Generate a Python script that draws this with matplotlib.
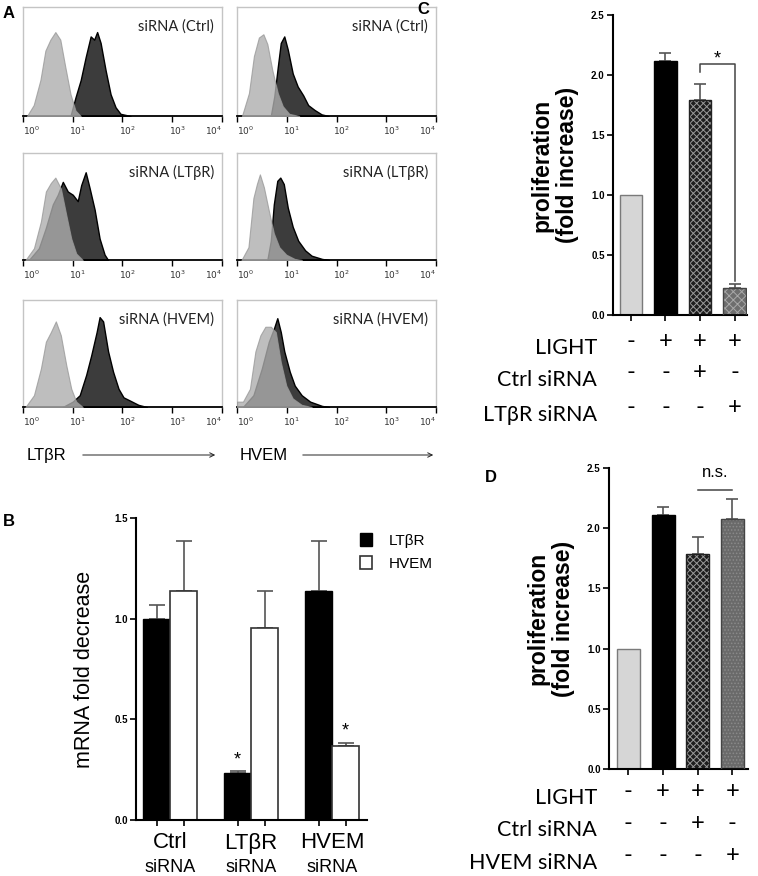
import matplotlib
matplotlib.use('Agg')
import matplotlib.pyplot as plt
import matplotlib.transforms as mtransforms
from matplotlib.patches import FancyArrowPatch
from matplotlib.ticker import LogLocator, NullFormatter
import numpy as np

plt.rcParams['font.family'] = ['Liberation Sans', 'DejaVu Sans']
plt.rcParams['hatch.linewidth'] = 0.7

W, H = 758, 876

# ---------------- Panel A: flow histograms (log10 fluorescence, normalized count) ----------------
hist_rows = ['siRNA (Ctrl)', 'siRNA (LTβR)', 'siRNA (HVEM)']
hist_ticks = [1, 10, 100, 1000, 10000]
hist_ticklabels = ['$10^{0}$', '$10^{1}$', '$10^{2}$', '$10^{3}$', '$10^{4}$']

# LTβR staining, Ctrl siRNA
ltbr_ctrl_iso_log = [0.08, 0.215, 0.35, 0.45, 0.55, 0.65, 0.75, 0.85, 0.955, 1.055, 1.16]
ltbr_ctrl_iso_h = [0, 0.10, 0.33, 0.60, 0.70, 0.77, 0.70, 0.45, 0.20, 0.05, 0]
ltbr_ctrl_ab_log = [0.955, 1.055, 1.16, 1.26, 1.36, 1.43, 1.49, 1.56, 1.66, 1.76, 1.86, 1.96, 2.16]
ltbr_ctrl_ab_h = [0, 0.17, 0.33, 0.54, 0.73, 0.70, 0.77, 0.67, 0.42, 0.20, 0.08, 0.02, 0]
# HVEM staining, Ctrl siRNA
hvem_ctrl_iso_log = [0.10, 0.24, 0.34, 0.44, 0.53, 0.61, 0.71, 0.82, 0.92, 1.05, 1.25]
hvem_ctrl_iso_h = [0, 0.21, 0.55, 0.72, 0.75, 0.66, 0.42, 0.21, 0.09, 0.02, 0]
hvem_ctrl_ab_log = [0.68, 0.75, 0.82, 0.88, 0.95, 1.02, 1.12, 1.22, 1.33, 1.43, 1.56, 1.70, 1.84]
hvem_ctrl_ab_h = [0, 0.18, 0.45, 0.67, 0.73, 0.61, 0.39, 0.27, 0.19, 0.10, 0.055, 0.015, 0]
# LTβR staining, LTβR siRNA
ltbr_ltbr_iso_log = [0.05, 0.22, 0.36, 0.46, 0.56, 0.65, 0.76, 0.87, 0.97, 1.07, 1.20]
ltbr_ltbr_iso_h = [0, 0.11, 0.36, 0.64, 0.72, 0.77, 0.67, 0.42, 0.20, 0.06, 0]
ltbr_ltbr_ab_log = [0.12, 0.32, 0.46, 0.60, 0.70, 0.80, 0.90, 1.00, 1.10, 1.17, 1.26, 1.34, 1.44, 1.54, 1.64, 1.71]
ltbr_ltbr_ab_h = [0, 0.11, 0.30, 0.52, 0.61, 0.73, 0.64, 0.61, 0.55, 0.70, 0.82, 0.67, 0.47, 0.20, 0.05, 0]
# HVEM staining, LTβR siRNA
hvem_ltbr_iso_log = [0.09, 0.23, 0.33, 0.40, 0.46, 0.54, 0.64, 0.74, 0.85, 0.99, 1.16, 1.30]
hvem_ltbr_iso_h = [0, 0.12, 0.58, 0.71, 0.80, 0.68, 0.46, 0.25, 0.12, 0.05, 0.01, 0]
hvem_ltbr_ab_log = [0.61, 0.68, 0.74, 0.81, 0.87, 0.94, 1.02, 1.12, 1.23, 1.37, 1.50, 1.71, 1.85]
hvem_ltbr_ab_h = [0, 0.18, 0.52, 0.74, 0.77, 0.71, 0.49, 0.31, 0.18, 0.09, 0.04, 0.01, 0]
# LTβR staining, HVEM siRNA
ltbr_hvem_iso_log = [0.05, 0.22, 0.36, 0.46, 0.56, 0.66, 0.76, 0.87, 0.97, 1.07, 1.20]
ltbr_hvem_iso_h = [0, 0.11, 0.36, 0.61, 0.70, 0.80, 0.67, 0.39, 0.17, 0.05, 0]
ltbr_hvem_ab_log = [0.80, 1.00, 1.14, 1.27, 1.37, 1.48, 1.54, 1.61, 1.71, 1.81, 1.92, 2.02, 2.15, 2.32, 2.49]
ltbr_hvem_ab_h = [0, 0.05, 0.11, 0.30, 0.48, 0.70, 0.84, 0.80, 0.52, 0.33, 0.17, 0.09, 0.06, 0.02, 0]
# HVEM staining, HVEM siRNA
hvem_hvem_iso_log = [0.0, 0.12, 0.26, 0.37, 0.47, 0.57, 0.68, 0.78, 0.88, 0.99, 1.12, 1.30, 1.50]
hvem_hvem_iso_h = [0.05, 0.05, 0.17, 0.52, 0.67, 0.75, 0.75, 0.70, 0.42, 0.20, 0.08, 0.02, 0]
hvem_hvem_ab_log = [0.12, 0.33, 0.50, 0.64, 0.74, 0.81, 0.88, 0.95, 1.06, 1.16, 1.30, 1.47, 1.71, 1.85]
hvem_hvem_ab_h = [0, 0.11, 0.36, 0.61, 0.73, 0.83, 0.70, 0.52, 0.33, 0.20, 0.11, 0.05, 0.01, 0]

hist_data = [
    [(ltbr_ctrl_iso_log, ltbr_ctrl_iso_h, ltbr_ctrl_ab_log, ltbr_ctrl_ab_h),
     (hvem_ctrl_iso_log, hvem_ctrl_iso_h, hvem_ctrl_ab_log, hvem_ctrl_ab_h)],
    [(ltbr_ltbr_iso_log, ltbr_ltbr_iso_h, ltbr_ltbr_ab_log, ltbr_ltbr_ab_h),
     (hvem_ltbr_iso_log, hvem_ltbr_iso_h, hvem_ltbr_ab_log, hvem_ltbr_ab_h)],
    [(ltbr_hvem_iso_log, ltbr_hvem_iso_h, ltbr_hvem_ab_log, ltbr_hvem_ab_h),
     (hvem_hvem_iso_log, hvem_hvem_iso_h, hvem_hvem_ab_log, hvem_hvem_ab_h)],
]

# ---------------- Panel B: mRNA ----------------
b_groups = ['Ctrl', 'LTβR', 'HVEM']
b_ltbr = [1.00, 0.235, 1.135]
b_ltbr_err = [0.069, 0.006, 0.249]
b_hvem = [1.135, 0.956, 0.368]
b_hvem_err = [0.249, 0.183, 0.013]
b_yticks = [0.0, 0.5, 1.0, 1.5]

# ---------------- Panel C / D: proliferation ----------------
c_vals = [1.0, 2.114, 1.795, 0.222]
c_err = [0.0, 0.070, 0.133, 0.033]
d_vals = [1.0, 2.112, 1.789, 2.076]
d_err = [0.0, 0.068, 0.138, 0.164]
prolif_yticks = [0.0, 0.5, 1.0, 1.5, 2.0, 2.5]
c_rows = ['LIGHT', 'Ctrl siRNA', 'LTβR siRNA']
c_signs = [['-', '+', '+', '+'], ['-', '-', '+', '-'], ['-', '-', '-', '+']]
d_rows = ['LIGHT', 'Ctrl siRNA', 'HVEM siRNA']
d_signs = [['-', '+', '+', '+'], ['-', '-', '+', '-'], ['-', '-', '-', '+']]

ARIAL = ['Liberation Sans', 'DejaVu Sans']
CALIBRI = ['Lato', 'DejaVu Sans']

fig = plt.figure(figsize=(W / 100, H / 100), dpi=100)


def add_ax(l, t, r, b):
    return fig.add_axes([l / W, 1 - b / H, (r - l) / W, (b - t) / H])


def fx(x):
    return x / W


def fy(y):
    return 1 - y / H


# ---------- Panel A ----------
col_lr = [(23, 222), (237, 436)]
row_tb = [(7, 116), (153, 260), (300, 407)]
for ri, (t, b) in enumerate(row_tb):
    for ci, (l, r) in enumerate(col_lr):
        ax = add_ax(l, t, r, b)
        iso_log, iso_h, ab_log, ab_h = hist_data[ri][ci]
        ab_x = 10 ** np.array(ab_log)
        iso_x = 10 ** np.array(iso_log)
        ax.fill_between(ab_x, ab_h, 0, facecolor='#3c3c3c', edgecolor='black', linewidth=1.0, zorder=2)
        ax.fill_between(iso_x, iso_h, 0, facecolor='#aeaeae', edgecolor='#9a9a9a', linewidth=0.8,
                        alpha=0.8, zorder=3)
        ax.set_xscale('log')
        ax.set_xlim(1, 1e4)
        ax.set_ylim(0, 1)
        ax.set_yticks([])
        ax.set_xticks(hist_ticks)
        ax.set_xticklabels(hist_ticklabels, fontsize=6.5, color='#333333')
        ax.xaxis.set_minor_locator(LogLocator(base=10, subs=np.arange(2, 10)))
        ax.xaxis.set_minor_formatter(NullFormatter())
        ax.tick_params(axis='x', which='major', direction='out', length=4, width=1.0, pad=2)
        ax.tick_params(axis='x', which='minor', direction='out', length=2, width=0.7)
        for s in ['left', 'top', 'right']:
            ax.spines[s].set_color('#c4c4c4')
            ax.spines[s].set_linewidth(1.0)
        ax.spines['bottom'].set_linewidth(1.3)
        labs = ax.get_xticklabels()
        labs[0].set_ha('left')
        labs[-1].set_ha('right')
        off = mtransforms.ScaledTranslation(5 / 100, 0, fig.dpi_scale_trans)
        for lab in labs[1:-1]:
            lab.set_transform(lab.get_transform() + off)
        ax.text(0.96, 0.82, hist_rows[ri], transform=ax.transAxes, ha='right', va='center',
                fontsize=10.5, family=CALIBRI, color='#222222')

fig.text(fx(9), fy(13), 'A', fontsize=12, fontweight='bold', ha='center', va='center')

# axis labels with arrows
fig.text(fx(27), fy(455), 'LTβR', fontsize=12, ha='left', va='center', family=ARIAL)
fig.text(fx(240), fy(455), 'HVEM', fontsize=12, ha='left', va='center', family=ARIAL)
for x0, x1 in [(80, 218), (300, 436)]:
    fig.add_artist(FancyArrowPatch((fx(x0), fy(455)), (fx(x1), fy(455)), transform=fig.transFigure,
                                   arrowstyle='->', mutation_scale=8, linewidth=0.7, color='#222222'))

# ---------- Panel B ----------
axb = add_ax(136, 518, 367, 820)
xg = np.arange(len(b_groups))
bw = 1 / 3
axb.bar(xg - bw / 2, b_ltbr, width=bw, color='black', edgecolor='black', linewidth=1.0, label='LTβR', zorder=2)
axb.bar(xg + bw / 2, b_hvem, width=bw, color='white', edgecolor='#333333', linewidth=1.2, label='HVEM', zorder=2)
axb.errorbar(xg - bw / 2, b_ltbr, yerr=[np.zeros(3), b_ltbr_err], fmt='none', ecolor='#555555',
             elinewidth=1.2, capsize=5.5, capthick=1.2, zorder=1)
axb.errorbar(xg + bw / 2, b_hvem, yerr=[np.zeros(3), b_hvem_err], fmt='none', ecolor='#555555',
             elinewidth=1.2, capsize=5.5, capthick=1.2, zorder=1)
axb.set_xlim(-0.42, 2.43)
axb.set_ylim(0, 1.5)
axb.set_yticks(b_yticks)
axb.set_yticklabels([f'{v:.1f}' for v in b_yticks], fontsize=7, fontweight='bold')
axb.set_xticks(np.concatenate([xg - bw / 2, xg + bw / 2]))
axb.set_xticklabels([])
axb.tick_params(axis='both', direction='out', length=4, width=1.2, pad=2)
for s in ['top', 'right']:
    axb.spines[s].set_visible(False)
for s in ['left', 'bottom']:
    axb.spines[s].set_linewidth(1.5)
axb.set_ylabel('mRNA fold decrease', fontsize=15.5, labelpad=14)
axb.text(1 - bw / 2, 0.30, '*', fontsize=13, ha='center', va='center')
axb.text(2 + bw / 2, 0.44, '*', fontsize=13, ha='center', va='center')
bt = mtransforms.blended_transform_factory(axb.transData, fig.transFigure)
for i, g in enumerate(b_groups):
    fig.text(xg[i], fy(843), g, transform=bt, fontsize=16, ha='center', va='center')
    fig.text(xg[i], fy(867), 'siRNA', transform=bt, fontsize=13, ha='center', va='center')
axb.legend(loc='upper left', bbox_to_anchor=(fx(354), fy(527)), bbox_transform=fig.transFigure,
           frameon=False, fontsize=11, handlelength=0.8, handleheight=0.9, handletextpad=1.1,
           labelspacing=0.55, borderaxespad=0)
fig.text(fx(9), fy(521), 'B', fontsize=12, fontweight='bold', ha='center', va='center')


# ---------- Panels C and D ----------
def prolif_panel(box, vals, errs, bar4_face, bar4_hatch, bar4_hcolor, xlim, rows, signs, row_y, sign_dy):
    ax = add_ax(*box)
    x = np.arange(4)
    w = 0.66
    # bar 1 light gray, bar 2 black
    ax.bar(x[0], vals[0], width=w, color='#d6d6d6', edgecolor='#7a7a7a', linewidth=1.0, zorder=2)
    ax.bar(x[1], vals[1], width=w, color='black', edgecolor='black', linewidth=1.0, zorder=2)
    # bar 3 checkered dark
    ax.bar(x[2], vals[2], width=w, color='#1e1e1e', edgecolor='#9a9a9a', hatch='xxxxx', linewidth=0, zorder=2)
    ax.bar(x[2], vals[2], width=w, fill=False, edgecolor='#222222', linewidth=1.0, zorder=3)
    # bar 4
    ax.bar(x[3], vals[3], width=w, color=bar4_face, edgecolor=bar4_hcolor, hatch=bar4_hatch, linewidth=0, zorder=2)
    ax.bar(x[3], vals[3], width=w, fill=False, edgecolor='#444444', linewidth=1.0, zorder=3)
    ax.errorbar(x[1:], vals[1:], yerr=[np.zeros(3), errs[1:]], fmt='none', ecolor='#555555',
                elinewidth=1.2, capsize=4.5, capthick=1.2, zorder=1)
    ax.set_xlim(*xlim)
    ax.set_ylim(0, 2.5)
    ax.set_yticks(prolif_yticks)
    ax.set_yticklabels([f'{v:.1f}' for v in prolif_yticks], fontsize=7, fontweight='bold')
    ax.set_xticks(x)
    ax.set_xticklabels([])
    ax.tick_params(axis='both', direction='out', length=4, width=1.2, pad=2)
    for s in ['top', 'right']:
        ax.spines[s].set_visible(False)
    for s in ['left', 'bottom']:
        ax.spines[s].set_linewidth(1.5)
    ax.set_ylabel('proliferation\n(fold increase)', fontsize=16.5, fontweight='bold', labelpad=9,
                  linespacing=1.12)
    tr = mtransforms.blended_transform_factory(ax.transData, fig.transFigure)
    for ri, name in enumerate(rows):
        fig.text(fx(597), fy(row_y[ri]), name, fontsize=15.5, family=CALIBRI, ha='right', va='center')
        for ci, s in enumerate(signs[ri]):
            fig.text(x[ci], fy(row_y[ri] - sign_dy), s, transform=tr, fontsize=17, family=CALIBRI,
                     ha='center', va='center')
    return ax


axc = prolif_panel((613, 15, 747, 315), c_vals, c_err, '#6e6e6e', 'xxxx', '#a8a8a8', (-0.52, 3.36),
                   c_rows, c_signs, [348, 380, 415], 7)
# significance bracket C
axc.plot([2, 2, 3, 3], [2.025, 2.095, 2.095, 0.28], color='#444444', linewidth=1.1)
axc.text(2.5, 2.13, '*', fontsize=13, ha='center', va='center')
fig.text(fx(423), fy(10), 'C', fontsize=12, fontweight='bold', ha='center', va='center')

axd = prolif_panel((609, 468, 748, 769), d_vals, d_err, '#6a6a6a', '.....', '#8a8a8a', (-0.56, 3.45),
                   d_rows, d_signs, [798, 830, 863], 7)
axd.plot([2, 3], [2.32, 2.32], color='#444444', linewidth=1.1)
axd.text(2.5, 2.46, 'n.s.', fontsize=12, ha='center', va='center')
fig.text(fx(491), fy(478), 'D', fontsize=12, fontweight='bold', ha='center', va='center')

fig.savefig('out.png', dpi=100)
